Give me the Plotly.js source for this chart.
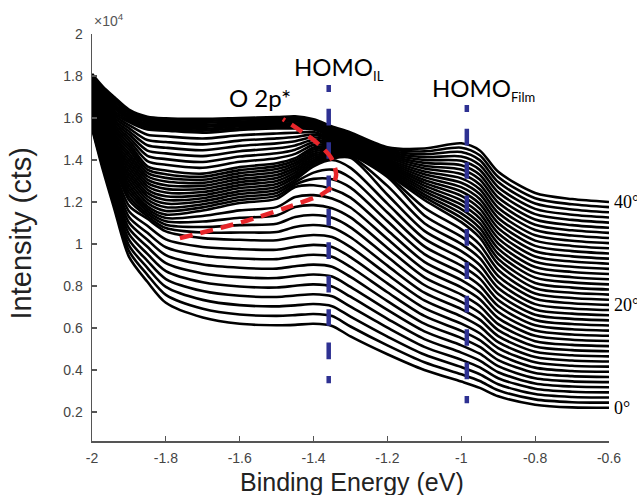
<!DOCTYPE html>
<html>
<head>
<meta charset="utf-8">
<script src="https://cdn.plot.ly/plotly-3.0.1.min.js"></script>
<style>html,body{margin:0;padding:0;background:#fff;}#chart{width:637px;height:495px;}</style>
</head>
<body>
<div id="chart"></div>
<script>
// Binding energy grid (eV)
const bindingEnergy = [-2.0, -1.97, -1.94, -1.9, -1.85, -1.8, -1.7, -1.6, -1.5, -1.45, -1.4, -1.35, -1.3, -1.2, -1.1, -1.0, -0.95, -0.9, -0.8, -0.7, -0.6];
// Emission angles (deg), one spectrum each
const angles = [0,1,2,3,4,5,6,7,8,9,10,11,12,13,14,15,16,17,18,19,20,21,22,23,24,25,26,27,28,29,30,31,32,33,34,35,36,37,38,39,40];
// Intensity (cts): one row per binding energy, one value per angle (0..40 deg)
const countsAtEnergy = [
  [15500,15565,15630,15695,15760,15825,15890,15955,16020,16085,16150,16215,16280,16345,16410,16475,16540,16605,16670,16735,16800,16865,16930,16995,17060,17125,17190,17255,17320,17385,17450,17515,17580,17645,17710,17775,17840,17905,17970,18035,18100],
  [13500,13640,13780,13920,14060,14200,14340,14480,14620,14760,14900,14986,15072,15158,15244,15330,15416,15502,15588,15674,15760,15846,15932,16018,16104,16190,16276,16362,16448,16534,16620,16706,16792,16878,16964,17050,17136,17222,17308,17394,17480],
  [11700,11900,12100,12300,12500,12700,12900,13100,13300,13500,13700,13810,13920,14030,14140,14250,14360,14470,14580,14690,14800,14910,15020,15130,15240,15350,15460,15570,15680,15790,15900,16010,16120,16230,16340,16450,16560,16670,16780,16890,17000],
  [9400,9670,9940,10210,10480,10750,11020,11290,11560,11830,12100,12280,12460,12640,12820,13000,13180,13345,13510,13675,13840,14005,14170,14335,14500,14645,14790,14935,15080,15225,15370,15515,15660,15805,15890,15975,16060,16145,16230,16315,16400],
  [8200,8533,8867,9200,9533,9867,10200,10533,10867,11200,11320,11440,11560,11680,11800,11958,12117,12275,12433,12592,12750,12908,13067,13225,13383,13542,13700,13950,14200,14450,14700,14950,15200,15450,15537,15625,15712,15800,15887,15975,16062],
  [7200,7578,7956,8333,8711,9089,9467,9844,10222,10600,10760,10920,11080,11240,11400,11575,11750,11925,12100,12275,12450,12625,12800,12975,13150,13325,13500,13771,14043,14314,14586,14857,15129,15400,15483,15567,15650,15733,15817,15900,15983],
  [6500,6920,7340,7760,8180,8600,9020,9440,9860,10280,10544,10808,11072,11336,11600,11746,11892,12038,12183,12329,12475,12621,12767,12913,13058,13204,13350,13629,13907,14186,14464,14743,15021,15300,15394,15489,15583,15677,15771,15866,15960],
  [6200,6644,7089,7533,7978,8422,8867,9311,9756,10200,10550,10900,11250,11600,11950,12093,12235,12378,12520,12663,12805,12948,13090,13233,13375,13518,13660,13913,14166,14419,14671,14924,15177,15430,15511,15593,15674,15756,15837,15919,16000],
  [6130,6580,7030,7480,7930,8380,8830,9280,9730,10180,10574,10968,11362,11756,12150,12292,12433,12575,12717,12858,13000,13142,13283,13425,13567,13708,13850,14086,14321,14557,14793,15029,15264,15500,15577,15654,15731,15809,15886,15963,16040],
  [6150,6615,7080,7545,8010,8475,8940,9405,9870,10335,10810,11285,11760,12235,12710,12825,12940,13055,13170,13285,13400,13515,13630,13745,13860,13975,14090,14291,14493,14694,14896,15097,15299,15500,15584,15667,15751,15834,15918,16001,16085],
  [6200,6670,7140,7610,8080,8550,9020,9490,9960,10430,10904,11378,11852,12326,12800,13100,13400,13700,13800,13900,14000,14100,14200,14300,14400,14500,14600,14721,14843,14964,15086,15207,15329,15450,15519,15589,15658,15727,15796,15866,15935],
  [6100,6570,7040,7510,7980,8450,8920,9390,9860,10330,10789,11248,11706,12165,12624,13083,13541,14000,14070,14139,14209,14278,14348,14417,14487,14557,14626,14696,14765,14835,14904,14974,15043,15113,15183,15252,15322,15391,15461,15530,15600],
  [5600,6072,6544,7017,7489,7961,8433,8906,9378,9850,10322,10794,11267,11739,12211,12683,13156,13628,14100,14155,14210,14265,14320,14375,14430,14485,14540,14595,14650,14705,14760,14815,14870,14925,14980,15035,15090,15145,15200,15255,15310],
  [4750,5172,5594,6016,6438,6860,7282,7704,8126,8548,8970,9392,9814,10236,10658,11080,11502,11924,12346,12768,13190,13261,13332,13403,13474,13545,13616,13687,13758,13829,13900,13971,14042,14113,14184,14255,14326,14397,14468,14539,14610],
  [4000,4368,4736,5104,5472,5840,6208,6576,6944,7312,7680,8048,8416,8784,9152,9520,9888,10256,10624,10992,11360,11728,12096,12232,12368,12504,12640,12777,12913,13049,13185,13321,13457,13593,13729,13865,14001,14137,14273,14409,14545],
  [3450,3795,4140,4485,4830,5175,5520,5865,6210,6555,6900,7245,7590,7935,8280,8625,8970,9315,9660,10005,10350,10695,11040,11249,11457,11666,11874,12083,12292,12500,12709,12917,13126,13335,13543,13752,13960,14169,14378,14586,14795],
  [3150,3475,3800,4125,4450,4775,5100,5425,5750,6075,6400,6725,7050,7375,7700,8025,8350,8675,9000,9325,9650,9975,10300,10531,10762,10992,11223,11454,11685,11916,12146,12377,12608,12839,13070,13301,13531,13762,13993,14224,14455],
  [2750,3036,3323,3609,3895,4182,4468,4755,5041,5327,5614,5900,6186,6473,6759,7045,7332,7618,7905,8191,8477,8764,9050,9294,9537,9781,10024,10268,10512,10755,10999,11242,11486,11730,11973,12217,12460,12704,12948,13191,13435],
  [2350,2602,2854,3106,3358,3610,3862,4114,4366,4618,4870,5122,5374,5626,5878,6130,6382,6634,6886,7138,7390,7642,7894,8146,8398,8650,8902,9154,9406,9658,9910,10162,10414,10666,10918,11170,11422,11674,11926,12178,12430],
  [2220,2468,2716,2964,3212,3460,3708,3956,4204,4452,4700,4948,5196,5444,5692,5940,6188,6436,6684,6932,7180,7428,7676,7924,8172,8420,8668,8916,9164,9412,9660,9908,10156,10404,10652,10900,11148,11396,11644,11892,12140],
  [2200,2445,2690,2935,3180,3425,3670,3915,4160,4405,4650,4895,5140,5385,5630,5875,6120,6365,6610,6855,7100,7345,7590,7835,8080,8325,8570,8815,9060,9305,9550,9795,10040,10285,10530,10775,11020,11265,11510,11755,12000]
];
// Guide lines
const homoILx = [-1.359, -1.359], homoILy = [17570, 3370];
const homoFilmX = [-0.985, -0.985], homoFilmY = [16617, 2417];
const o2pX = [-1.762, -1.594, -1.477, -1.377, -1.352, -1.339, -1.352, -1.390, -1.442, -1.483];
const o2pY = [10279, 11042, 11709, 12376, 12710, 13281, 14091, 14806, 15473, 15950];
// Axis ticks
const xTicks = [-2, -1.8, -1.6, -1.4, -1.2, -1, -0.8, -0.6];
const xTickText = ['-2', '-1.8', '-1.6', '-1.4', '-1.2', '-1', '-0.8', '-0.6'];
const yTicks = [2000, 4000, 6000, 8000, 10000, 12000, 14000, 16000, 18000, 20000];
const yTickText = ['0.2', '0.4', '0.6', '0.8', '1', '1.2', '1.4', '1.6', '1.8', '2'];
const angleLabels = [{text: '40°', y: 12000}, {text: '20°', y: 7100}, {text: '0°', y: 2200}];

const traces = angles.map((a, i) => ({
  x: bindingEnergy,
  y: countsAtEnergy.map(row => row[i]),
  type: 'scatter', mode: 'lines', hoverinfo: 'skip',
  line: {color: '#000', width: 2.6, shape: 'spline', smoothing: 0.8}
}));

const blueDash = '7px,16.7px,16.7px,16.7px,16.7px,16.7px,16.7px,16.7px,16.7px,16.7px,16.7px,16.7px,16.7px,16.7px,16.7px,16.7px,16.7px,16.7px,8px';
traces.push({x: homoILx, y: homoILy, type: 'scatter', mode: 'lines', line: {color: '#2e3192', width: 4.5, dash: blueDash}});
traces.push({x: homoFilmX, y: homoFilmY, type: 'scatter', mode: 'lines', line: {color: '#2e3192', width: 4.5, dash: blueDash}});
traces.push({x: o2pX, y: o2pY, type: 'scatter', mode: 'lines', line: {color: '#e8262b', width: 4.5, dash: '13px,8px', shape: 'spline', smoothing: 0.8}});

const annFont = {family: 'Lato, "Open Sans", sans-serif', size: 24, color: '#000'};
const annotations = [
  {xref: 'x', yref: 'y', x: -1.545, y: 16998, text: 'O 2p*', showarrow: false, xanchor: 'center', yanchor: 'middle', font: annFont},
  {xref: 'x', yref: 'y', x: -1.458, y: 18380, text: 'HOMO<sub><span style="font-size:13px;color:#000">IL</span></sub>', showarrow: false, xanchor: 'left', yanchor: 'middle', font: annFont},
  {xref: 'x', yref: 'y', x: -1.084, y: 17379, text: 'HOMO<sub><span style="font-size:13px;color:#000">Film</span></sub>', showarrow: false, xanchor: 'left', yanchor: 'middle', font: annFont},
  {xref: 'paper', yref: 'paper', x: 0, y: 1, xanchor: 'left', yanchor: 'bottom', yshift: 3, text: '×10<sup>4</sup>', showarrow: false, font: {family: 'Arial, "Liberation Sans", sans-serif', size: 14, color: '#555'}},
  {xref: 'paper', yref: 'paper', x: -0.1373, y: 0.51, textangle: -90, text: 'Intensity (cts)', showarrow: false, xanchor: 'center', yanchor: 'middle', font: {family: 'Arial, "Liberation Sans", sans-serif', size: 29, color: '#222'}},
  {xref: 'paper', yref: 'paper', x: 0.502, y: -0.1007, text: 'Binding Energy (eV)', showarrow: false, xanchor: 'center', yanchor: 'middle', font: {family: 'Arial, "Liberation Sans", sans-serif', size: 25, color: '#222'}}
];
angleLabels.forEach(l => annotations.push({xref: 'paper', yref: 'y', x: 1, y: l.y, xanchor: 'left', yanchor: 'middle', xshift: 3, text: l.text, showarrow: false, font: {family: '"Liberation Serif", "Times New Roman", serif', size: 18, color: '#000'}}));

const axisCommon = {ticks: 'inside', ticklen: 5, tickwidth: 1.2, tickcolor: '#555', showline: true, linecolor: '#555', linewidth: 1.5, showgrid: false, zeroline: false, mirror: false, tickfont: {family: 'Arial, "Liberation Sans", sans-serif', size: 14, color: '#444'}};

const layout = {
  width: 637, height: 495,
  margin: {l: 92, r: 28, t: 34, b: 54},
  paper_bgcolor: '#fff', plot_bgcolor: '#fff',
  showlegend: false,
  xaxis: Object.assign({}, axisCommon, {range: [-2, -0.6], tickmode: 'array', tickvals: xTicks, ticktext: xTickText, ticklabelstandoff: 4}),
  yaxis: Object.assign({}, axisCommon, {range: [620, 20000], tickmode: 'array', tickvals: yTicks, ticktext: yTickText, ticklabelstandoff: 5}),
  annotations: annotations
};

Plotly.newPlot('chart', traces, layout, {staticPlot: true, displayModeBar: false});
</script>
</body>
</html>
